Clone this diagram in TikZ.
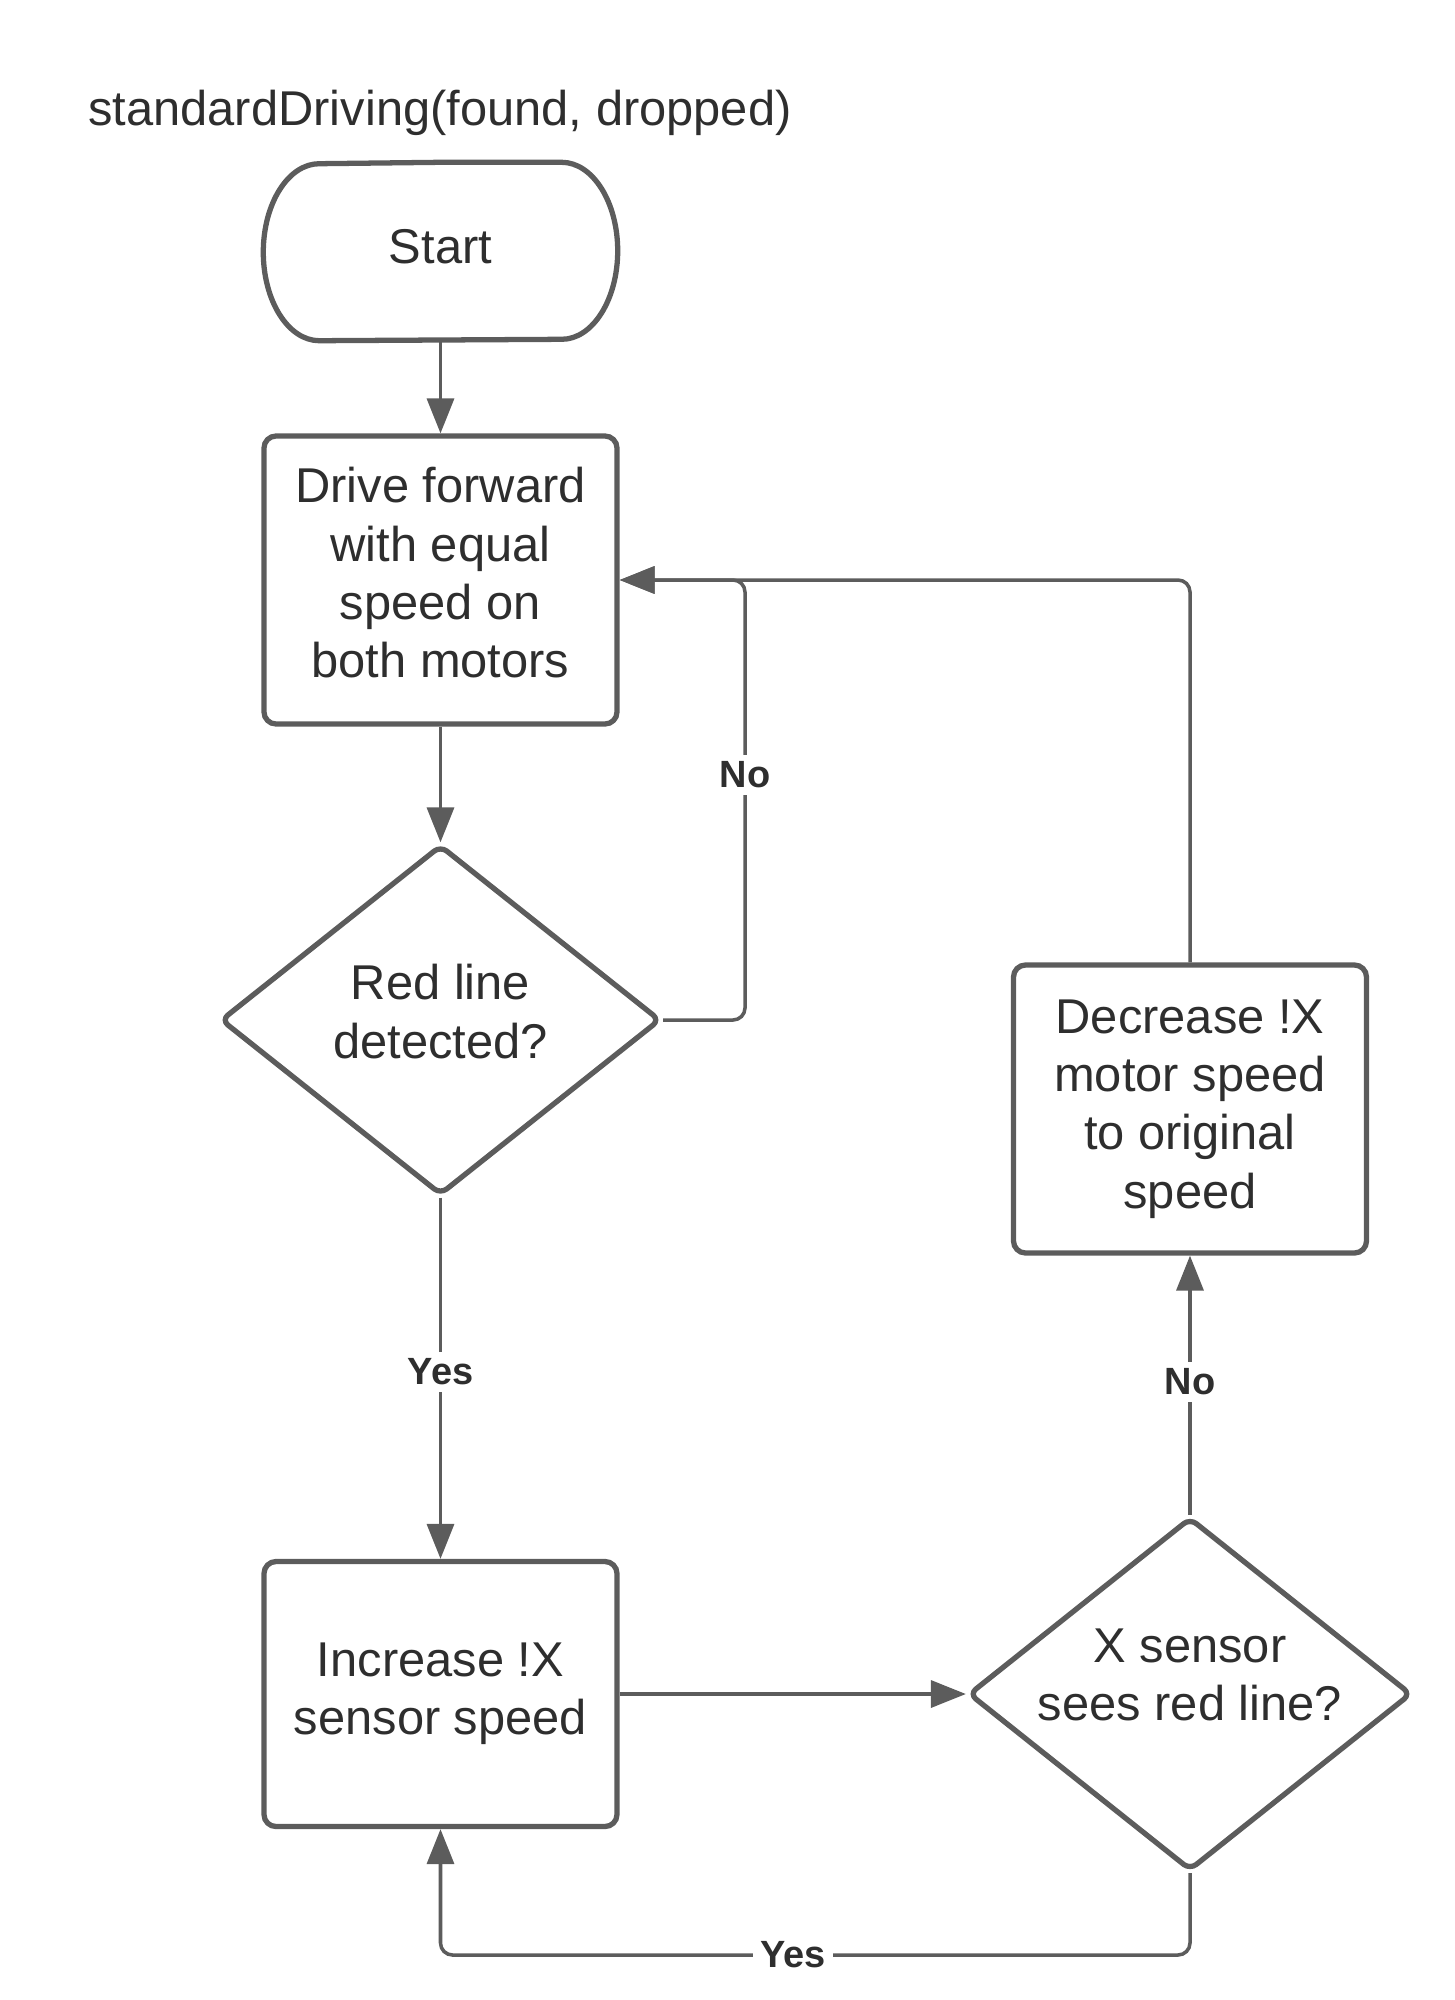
\documentclass[tikz,border=0pt]{standalone}
\usepackage{fontspec}
\setmainfont{Liberation Sans}
\usetikzlibrary{arrows.meta,shapes.geometric,positioning,calc}
\definecolor{linegray}{HTML}{5C5C5C}
\definecolor{textgray}{HTML}{2E2E2E}
\newcommand{\chartfont}{\fontsize{13.9}{16.6}\selectfont}
% text block, lifted a little inside its shape
\newcommand{\liftlines}[2]{\raisebox{0pt}[\dimexpr\height-#1\relax][\depth]{\begin{tabular}{@{}c@{}}#2\end{tabular}}}
\tikzset{
 box/.style={rectangle,draw=linegray,line width=1.5pt,rounded corners=1.2mm,
  minimum width=35.3mm,inner sep=0pt,text=textgray,font=\chartfont},
 decision/.style={diamond,draw=linegray,line width=1.5pt,rounded corners=0.8mm,
  aspect=1.25,inner sep=0pt,text=textgray,font=\chartfont},
 flow/.style={draw=linegray,line width=1pt,rounded corners=1.2mm,
  -{Triangle[length=3.5mm,width=2.7mm]}},
 answer/.style={fill=white,text=textgray,inner sep=2pt,
  font=\fontsize{10.8}{12}\selectfont\bfseries}
}
\begin{document}
\begin{tikzpicture}
\useasboundingbox (0,0) rectangle (14.55,-20);
\node[text=textgray,font=\chartfont] (title) at (4.40,-1.13) {standardDriving(found, dropped)};
%terminal
\node[minimum width=35.3mm,minimum height=17.7mm,inner sep=0pt,text=textgray,font=\chartfont] (start) at (4.405,-2.515) {\liftlines{0mm}{Start}};
\draw[draw=linegray,line width=1.5pt](start.north)--([xshift=-5.6mm]start.north east)
arc[start angle=90,end angle=-90,x radius=5.6mm,y radius=8.85mm]
--([xshift=5.6mm]start.south west)
arc[start angle=270,end angle=90,x radius=5.6mm,y radius=8.85mm]--cycle;
%steps
\node[box,minimum height=28.8mm] (drive) at (4.405,-5.80) {\liftlines{0.3mm}{Drive forward\\with equal\\speed on\\both motors}};
\node[decision,minimum width=44.0mm,minimum height=35.0mm] (redline) at (4.405,-10.20) {\liftlines{0.55mm}{Red line\\detected?}};
\node[box,minimum height=26.5mm] (increase) at (4.405,-16.94) {\liftlines{0mm}{Increase !X\\sensor speed}};
\node[decision,minimum width=44.3mm,minimum height=35.3mm] (sees) at (11.90,-16.94) {\liftlines{2.8mm}{X sensor\\sees red line?}};
\node[box,minimum height=28.8mm] (decrease) at (11.90,-11.09) {\liftlines{0mm}{Decrease !X\\motor speed\\to original\\speed}};
\coordinate (join) at (7.45,-5.80);
\coordinate (bottom) at (11.90,-19.55);
%connectors
\draw[flow](start)--(drive);
\draw[flow](drive)--(redline);
\draw[flow](redline)--(increase);
\draw[flow](redline.east)-|(join)--(drive.east);
\draw[flow](increase.east)--(sees.west);
\draw[flow](sees.north)--(decrease.south);
\draw[flow](decrease.north)|-(drive.east);
\draw[flow](sees.south)--(bottom)-|(increase.south);
%labels
\node[answer] (no1) at (7.45,-7.75) {No};
\node[answer] (yes1) at (4.405,-13.72) {Yes};
\node[answer] (no2) at (11.90,-13.82) {No};
\node[answer] (yes2) at (7.93,-19.55) {Yes};
\end{tikzpicture}
\end{document}
